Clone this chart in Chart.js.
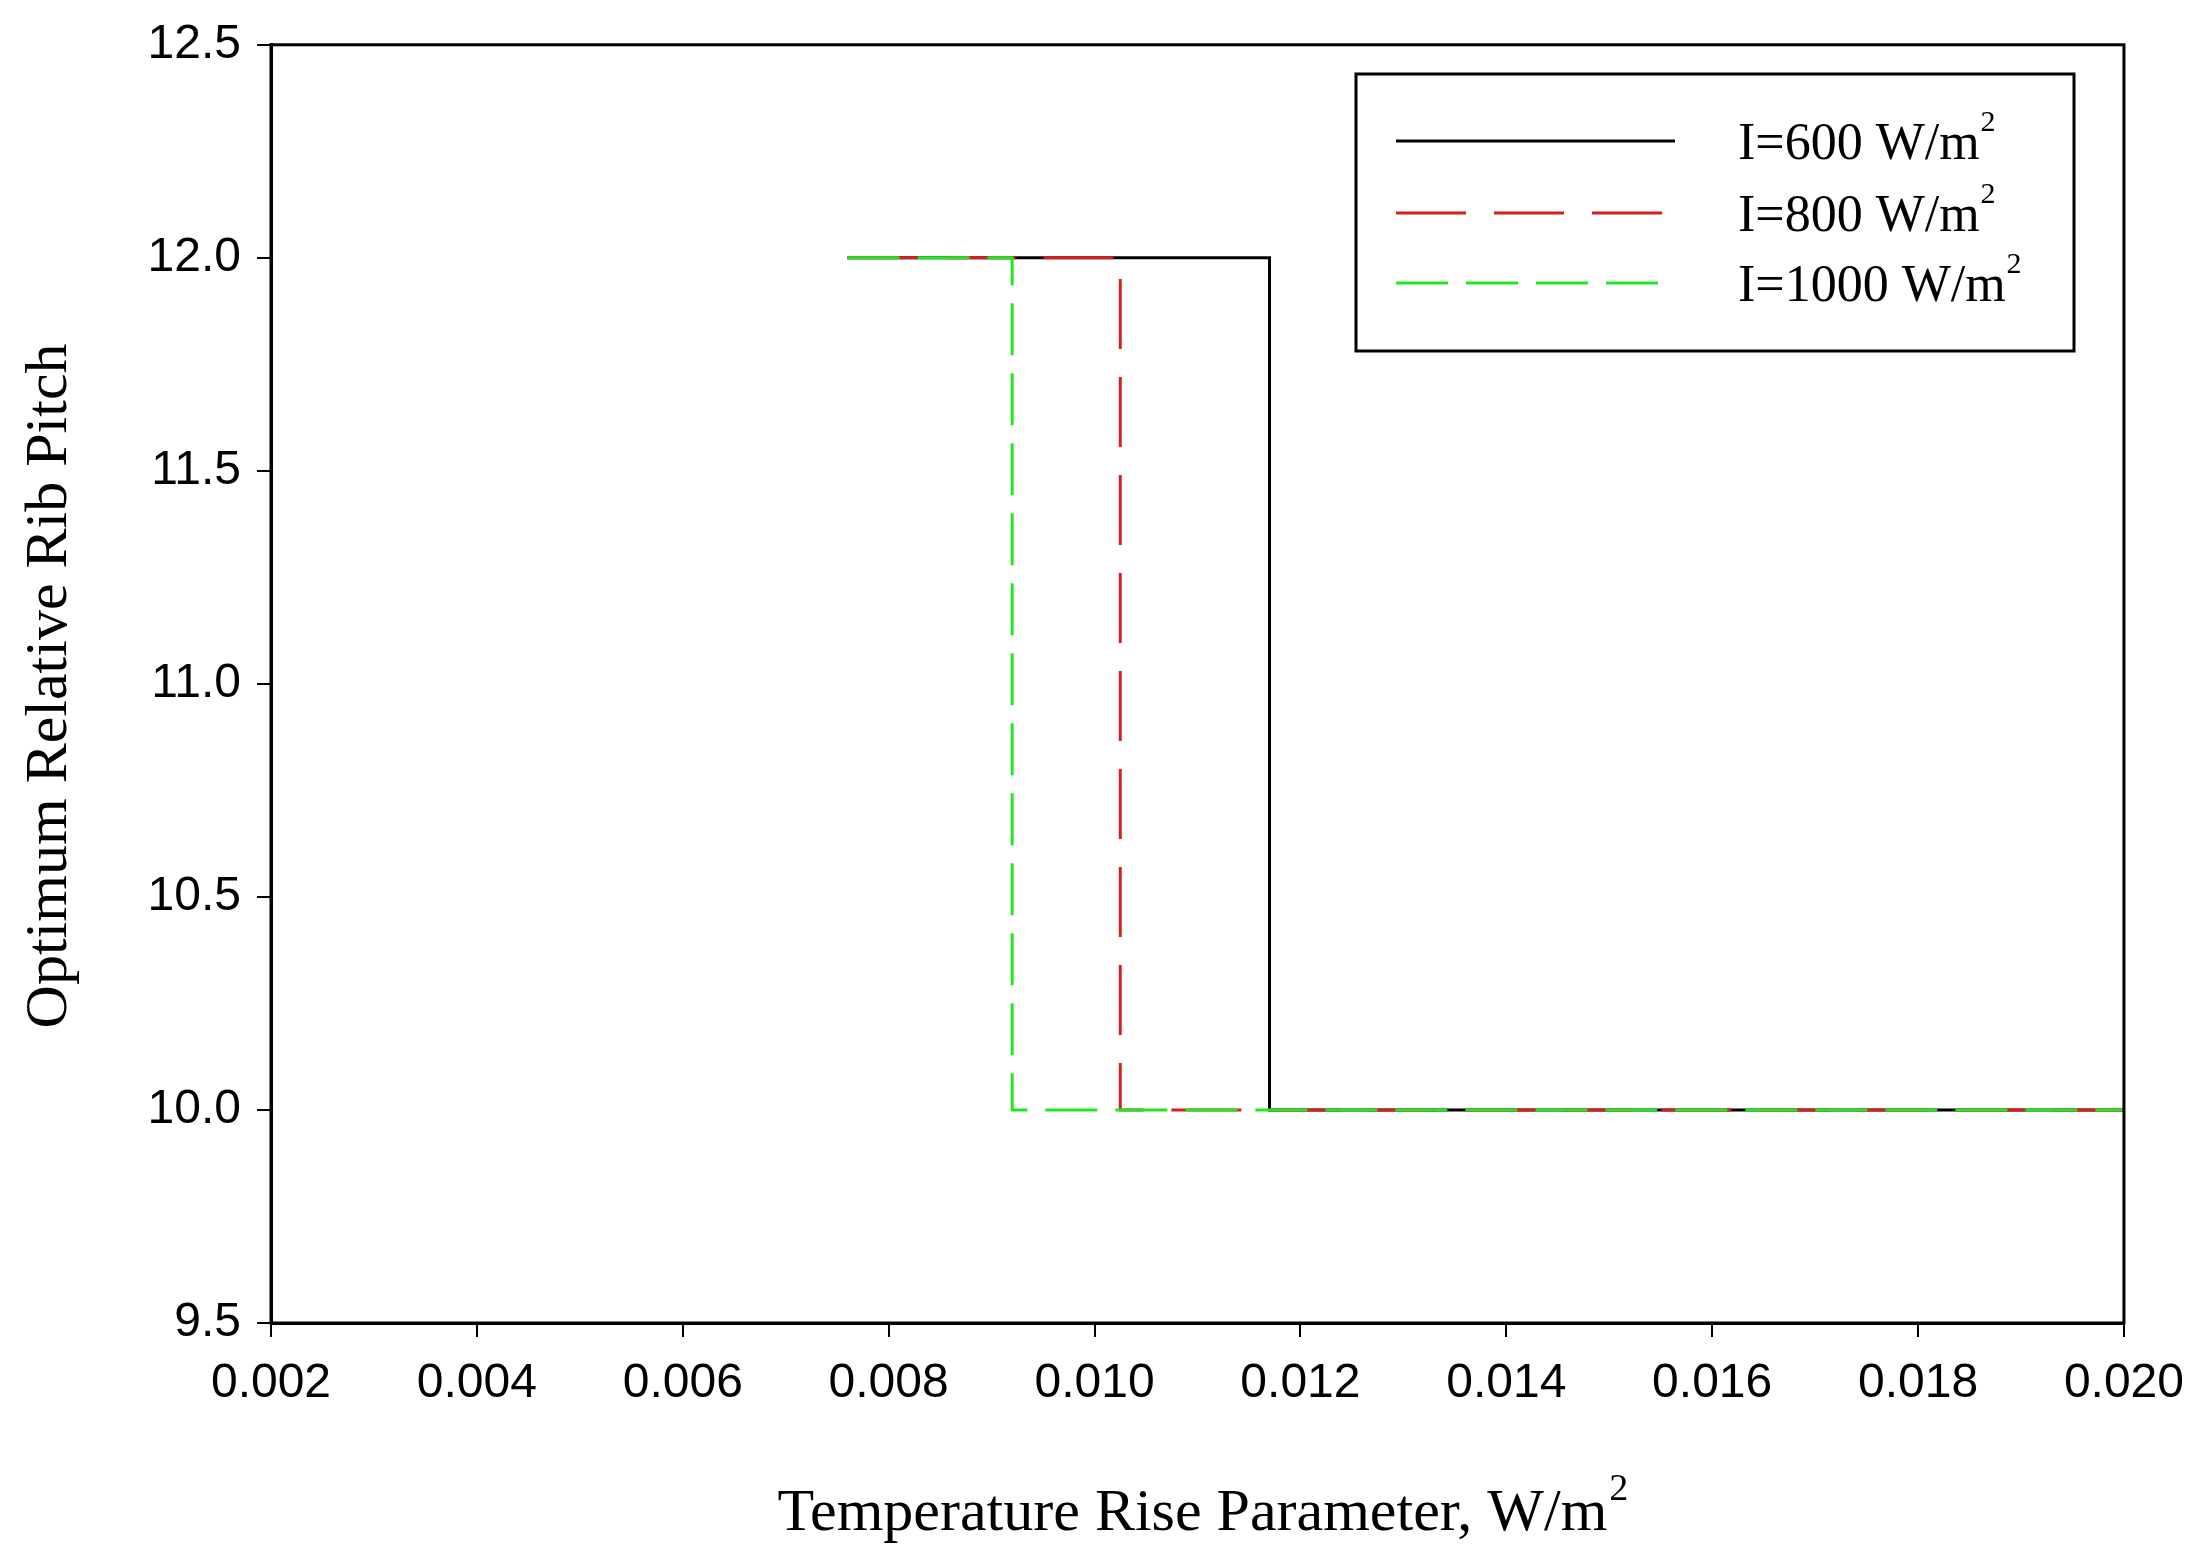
<!DOCTYPE html>
<html><head><meta charset="utf-8">
<script src="https://cdn.jsdelivr.net/npm/chart.js@4/dist/chart.umd.min.js"></script>
<style>html,body{margin:0;padding:0;background:#fff}#wrap{width:2202px;height:1558px}</style>
</head><body><div id="wrap"><canvas id="c"></canvas></div>
<script>
// series: step curves, x = temperature rise parameter, y = optimum relative rib pitch
const x600 = [0.0076, 0.0117, 0.0117, 0.020];
const y600 = [12, 12, 10, 10];
const x800 = [0.0076, 0.01025, 0.01025, 0.020];
const y800 = [12, 12, 10, 10];
const x1000 = [0.0076, 0.0092, 0.0092, 0.020];
const y1000 = [12, 12, 10, 10];
const seriesNames = ['I=600 W/m', 'I=800 W/m', 'I=1000 W/m'];
const xTicks = [0.002, 0.004, 0.006, 0.008, 0.010, 0.012, 0.014, 0.016, 0.018, 0.020];
const yTicks = [9.5, 10.0, 10.5, 11.0, 11.5, 12.0, 12.5];

const pts = (xs, ys) => xs.map((x, i) => ({x: x, y: ys[i]}));
const colors = ['#000000', '#d62020', '#22e622'];
const dashes = [[], [70, 28], [52, 18]];

const titles = {
  id: 'titles',
  afterDraw(chart) {
    const ctx = chart.ctx, a = chart.chartArea;
    ctx.save();
    ctx.fillStyle = '#000';
    ctx.strokeStyle = '#000'; ctx.lineWidth = 3;
    ctx.strokeRect(a.left, a.top, a.right - a.left, a.bottom - a.top);
    // x title
    ctx.font = '60px "Liberation Serif"';
    ctx.textBaseline = 'alphabetic';
    const t = 'Temperature Rise Parameter, W/m';
    const w = ctx.measureText(t).width;
    const cx = (a.left + a.right) / 2 + 5;
    ctx.fillText(t, cx - w / 2 - 10, 1530);
    ctx.font = '38px "Liberation Serif"';
    ctx.fillText('2', cx + w / 2 - 8, 1500);
    // y title
    ctx.translate(66, (a.top + a.bottom) / 2 + 2);
    ctx.rotate(-Math.PI / 2);
    ctx.font = '60px "Liberation Serif"';
    ctx.textAlign = 'center';
    ctx.fillText('Optimum Relative Rib Pitch', 0, 0);
    ctx.restore();
    // legend
    ctx.save();
    ctx.lineWidth = 3; ctx.strokeStyle = '#000';
    ctx.strokeRect(1356, 74, 718, 277);
    const rows = [141, 213, 283];
    rows.forEach((y, i) => {
      ctx.beginPath();
      ctx.strokeStyle = colors[i];
      ctx.lineWidth = 3;
      ctx.setLineDash(dashes[i]);
      ctx.moveTo(1396, y); ctx.lineTo(1675, y); ctx.stroke();
      ctx.setLineDash([]);
      ctx.fillStyle = '#000';
      ctx.font = '52px "Liberation Serif"';
      ctx.textBaseline = 'middle';
      ctx.fillText(seriesNames[i], 1738, y + 4);
      const ww = ctx.measureText(seriesNames[i]).width;
      ctx.font = '30px "Liberation Serif"';
      ctx.fillText('2', 1738 + ww + 1, y - 18);
    });
    ctx.restore();
  }
};

new Chart(document.getElementById('c'), {
  type: 'line',
  data: {
    datasets: [
      {label: seriesNames[0], order: 3, data: pts(x600, y600), borderColor: colors[0], borderWidth: 3, borderDash: dashes[0], pointRadius: 0, fill: false, tension: 0},
      {label: seriesNames[1], order: 2, data: pts(x800, y800), borderColor: colors[1], borderWidth: 3, borderDash: dashes[1], pointRadius: 0, fill: false, tension: 0},
      {label: seriesNames[2], order: 1, data: pts(x1000, y1000), borderColor: colors[2], borderWidth: 3, borderDash: dashes[2], pointRadius: 0, fill: false, tension: 0}
    ]
  },
  options: {
    responsive: true, maintainAspectRatio: false, animation: false,
    layout: {padding: {left: 0, top: 28, right: 75, bottom: 0}},
    plugins: {legend: {display: false}, tooltip: {enabled: false}},
    scales: {
      x: {
        type: 'linear', min: 0.002, max: 0.020,
        afterBuildTicks: s => { s.ticks = xTicks.map(v => ({value: v})); },
        afterFit: s => { s.height = 235; },
        grid: {drawOnChartArea: false, tickLength: 14, color: '#000', lineWidth: 2},
        border: {color: '#000', width: 3},
        ticks: {color: '#000', font: {family: '"Liberation Sans"', size: 48}, padding: 18, maxRotation: 0,
          callback: v => v.toFixed(3)}
      },
      y: {
        min: 9.5, max: 12.5,
        afterBuildTicks: s => { s.ticks = yTicks.map(v => ({value: v})); },
        afterFit: s => { s.width = 271; },
        grid: {drawOnChartArea: false, tickLength: 14, color: '#000', lineWidth: 2},
        border: {color: '#000', width: 3},
        ticks: {color: '#000', font: {family: '"Liberation Sans"', size: 48}, padding: 16,
          callback: v => v.toFixed(1)}
      }
    }
  },
  plugins: [titles]
});
</script></body></html>
